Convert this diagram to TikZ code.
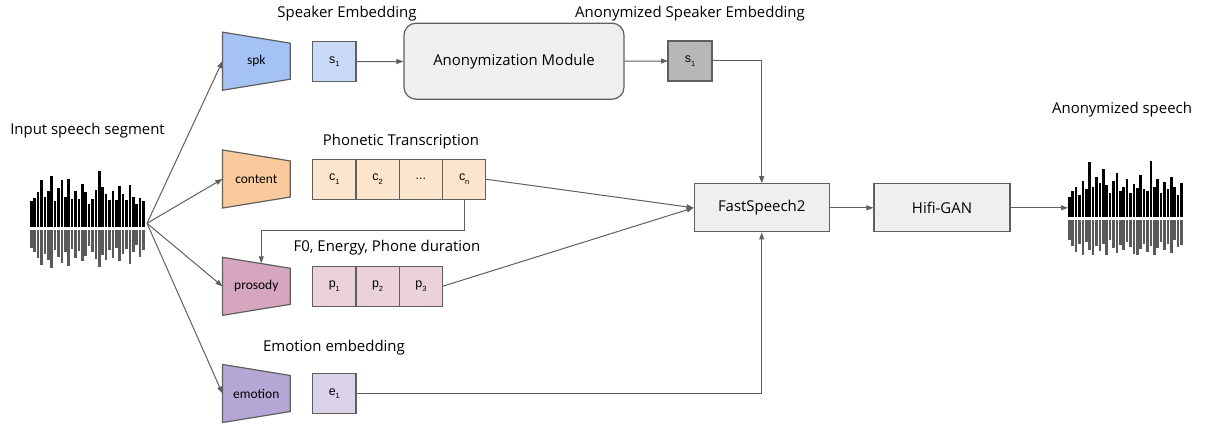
\documentclass[tikz,border=0pt]{standalone}
\usepackage{fontspec}
\setmainfont{Open Sans}
\newfontfamily\encfont{Carlito}
\newfontfamily\embfont{Liberation Sans}
\usepackage{tikz}
\usetikzlibrary{arrows.meta}
\usetikzlibrary{backgrounds}
\usetikzlibrary{positioning}
\definecolor{linecol}{HTML}{5F5F5F}
\definecolor{wavegrey}{HTML}{5A5A5A}
\definecolor{panel}{HTML}{EFEFEF}
\definecolor{spkfill}{HTML}{A4C2F4}
\definecolor{sfill}{HTML}{C9DAF8}
\definecolor{confill}{HTML}{F9CB9C}
\definecolor{cfill}{HTML}{FCE5CD}
\definecolor{profill}{HTML}{D5A6BD}
\definecolor{pfill}{HTML}{EAD1DC}
\definecolor{emofill}{HTML}{B4A7D6}
\definecolor{efill}{HTML}{D9D2E9}
\definecolor{anonfill}{HTML}{B7B7B7}
\newcommand{\lowidx}[1]{\raisebox{-3.5bp}{\fontsize{7.5}{8}\selectfont #1}}
\tikzset{conn/.style={draw=linecol, line width=1bp, -{Triangle[length=7bp,width=5bp]}}}

\begin{document}
\begin{tikzpicture}[x=1bp,y=1bp,line join=miter,
  enc/.style={minimum width=67.3bp, minimum height=57.7bp, inner sep=0pt, font=\encfont\fontsize{13.5}{15}\selectfont},
  emb/.style={draw=linecol, line width=1.2bp, fill=#1, minimum width=43.3bp, minimum height=40bp, inner sep=0pt, outer sep=0pt, font=\embfont\fontsize{12.5}{14}\selectfont},
  block/.style={draw=linecol, line width=1.2bp, fill=panel, minimum width=135bp, minimum height=48bp, font=\fontsize{15}{18}\selectfont},
  caption/.style={anchor=base, inner sep=0pt, font=\fontsize{15}{18}\selectfont}]
\useasboundingbox (0,0) rectangle (1209,423);
%% waveforms
\foreach \h/\d [count=\i] in {25.7/18, 29.3/22, 35/28, 47.3/35, 30/24, 35.7/30, 51/38, 26/20, 39.3/27, 46.7/33, 30/22, 47.7/36, 27.7/19, 35.7/28, 28.3/21, 43.3/31, 35/26, 23.3/16, 28.3/22, 36.7/29, 55.7/37, 40/25, 33.3/30, 27.3/20, 35.7/28, 26.7/18, 40.7/31, 33.3/24, 26.7/19, 41.7/34, 30/22, 22.7/15, 29.3/27, 26/20} {
  \fill[black] (26.6+3.4*\i,196) rectangle ++(2.5,\h);
  \fill[wavegrey] (26.6+3.4*\i,193) rectangle ++(2.5,-\d);
}
\foreach \h/\d [count=\i] in {20/20, 26/26, 30/32, 22/24, 36/35, 28/22, 55/30, 30/35, 40/26, 34/31, 48/24, 32/35, 24/20, 36/28, 44/33, 26/25, 30/30, 38/22, 24/27, 33/34, 29/35, 42/29, 28/24, 26/32, 56/26, 30/35, 38/28, 24/22, 35/30, 28/24, 40/33, 30/20, 22/27, 34/25} {
  \fill[black] (1064.6+3.4*\i,206.3) rectangle ++(2.5,\h);
  \fill[wavegrey] (1064.6+3.4*\i,203.3) rectangle ++(2.5,-\d);
}
\coordinate (in_wave) at (147bp,199.7bp);
\coordinate (out_wave) at (1068bp,215.2bp);
%% captions
\node (cap_in) at (87.5bp,288bp) [caption] {Input speech segment};
\node (cap_spk) at (347bp,405.5bp) [caption] {Speaker Embedding};
\node (cap_anon) at (690bp,405.5bp) [caption] {Anonymized Speaker Embedding};
\node (cap_phon) at (401bp,277bp) [caption] {Phonetic Transcription};
\node (cap_pros) at (387bp,171.3bp) [caption] {F0, Energy, Phone duration};
\node (cap_emo) at (334bp,71.3bp) [caption] {Emotion embedding};
\node (cap_out) at (1122bp,309.7bp) [caption] {Anonymized speech};
%% encoders
\node (spk) at (256.3bp,361.8bp) [enc] {spk};
\node (content) at (256.3bp,244bp) [enc] {content};
\node (prosody) at (256.3bp,136.7bp) [enc] {prosody};
\node (emotion) at (256.3bp,29.5bp) [enc] {emotion};
\begin{scope}[on background layer]
\foreach \n/\c in {spk/spkfill, content/confill, prosody/profill, emotion/emofill}
  \filldraw[fill=\c, draw=linecol, line width=1.2bp] (\n.north west) -- ([yshift=-11bp]\n.north east) -- ([yshift=11bp]\n.south east) -- (\n.south west) -- cycle;
\end{scope}
%% embeddings
\node (s_1) at (334.3bp,361.3bp) [emb=sfill] {s\lowidx{1}};
\node (c_1) at (334.3bp,243.8bp) [emb=cfill] {c\lowidx{1}};
\node (c_2) [emb=cfill, right=0pt of c_1] {c\lowidx{2}};
\node (c_dots) [emb=cfill, right=0pt of c_2] {...};
\node (c_n) [emb=cfill, right=0pt of c_dots] {c\lowidx{n}};
\node (p_1) at (334.3bp,136.7bp) [emb=pfill] {p\lowidx{1}};
\node (p_2) [emb=pfill, right=0pt of p_1] {p\lowidx{2}};
\node (p_3) [emb=pfill, right=0pt of p_2] {p\lowidx{3}};
\node (e_1) at (334.3bp,29.3bp) [emb=efill] {e\lowidx{1}};
%% blocks
\node (module) at (514bp,361.8bp) [block, rounded corners=12bp, minimum width=220bp, minimum height=76bp] {Anonymization Module};
\node (anon_s1) at (690bp,362bp) [emb=anonfill, minimum width=44bp] {s\lowidx{1}};
\node (fs) at (761.7bp,215.2bp) [block] {FastSpeech2};
\node (hifi) at (942bp,215.2bp) [block, minimum width=136bp] {Hifi-GAN};
%% connectors
\draw [conn] (in_wave) -- (spk.west);
\draw [conn] (in_wave) -- (content.west);
\draw [conn] (in_wave) -- (prosody.west);
\draw [conn] (in_wave) -- (emotion.west);
\draw [conn] (s_1) -- (module);
\draw [conn] (module) -- (anon_s1);
\draw [conn] (anon_s1.east) -| (fs.north);
\draw [conn] (c_n.east) -- (fs.west);
\draw [conn] (p_3.east) -- (fs.west);
\draw [conn] (e_1.east) -| (fs.south);
\draw [conn] (c_n.south) -- ++(0,-31.5bp) -| ([xshift=5bp,yshift=-6bp]prosody.north);
\draw [conn] (fs) -- (hifi);
\draw [conn] (hifi) -- (out_wave);
%
\end{tikzpicture}
\end{document}
